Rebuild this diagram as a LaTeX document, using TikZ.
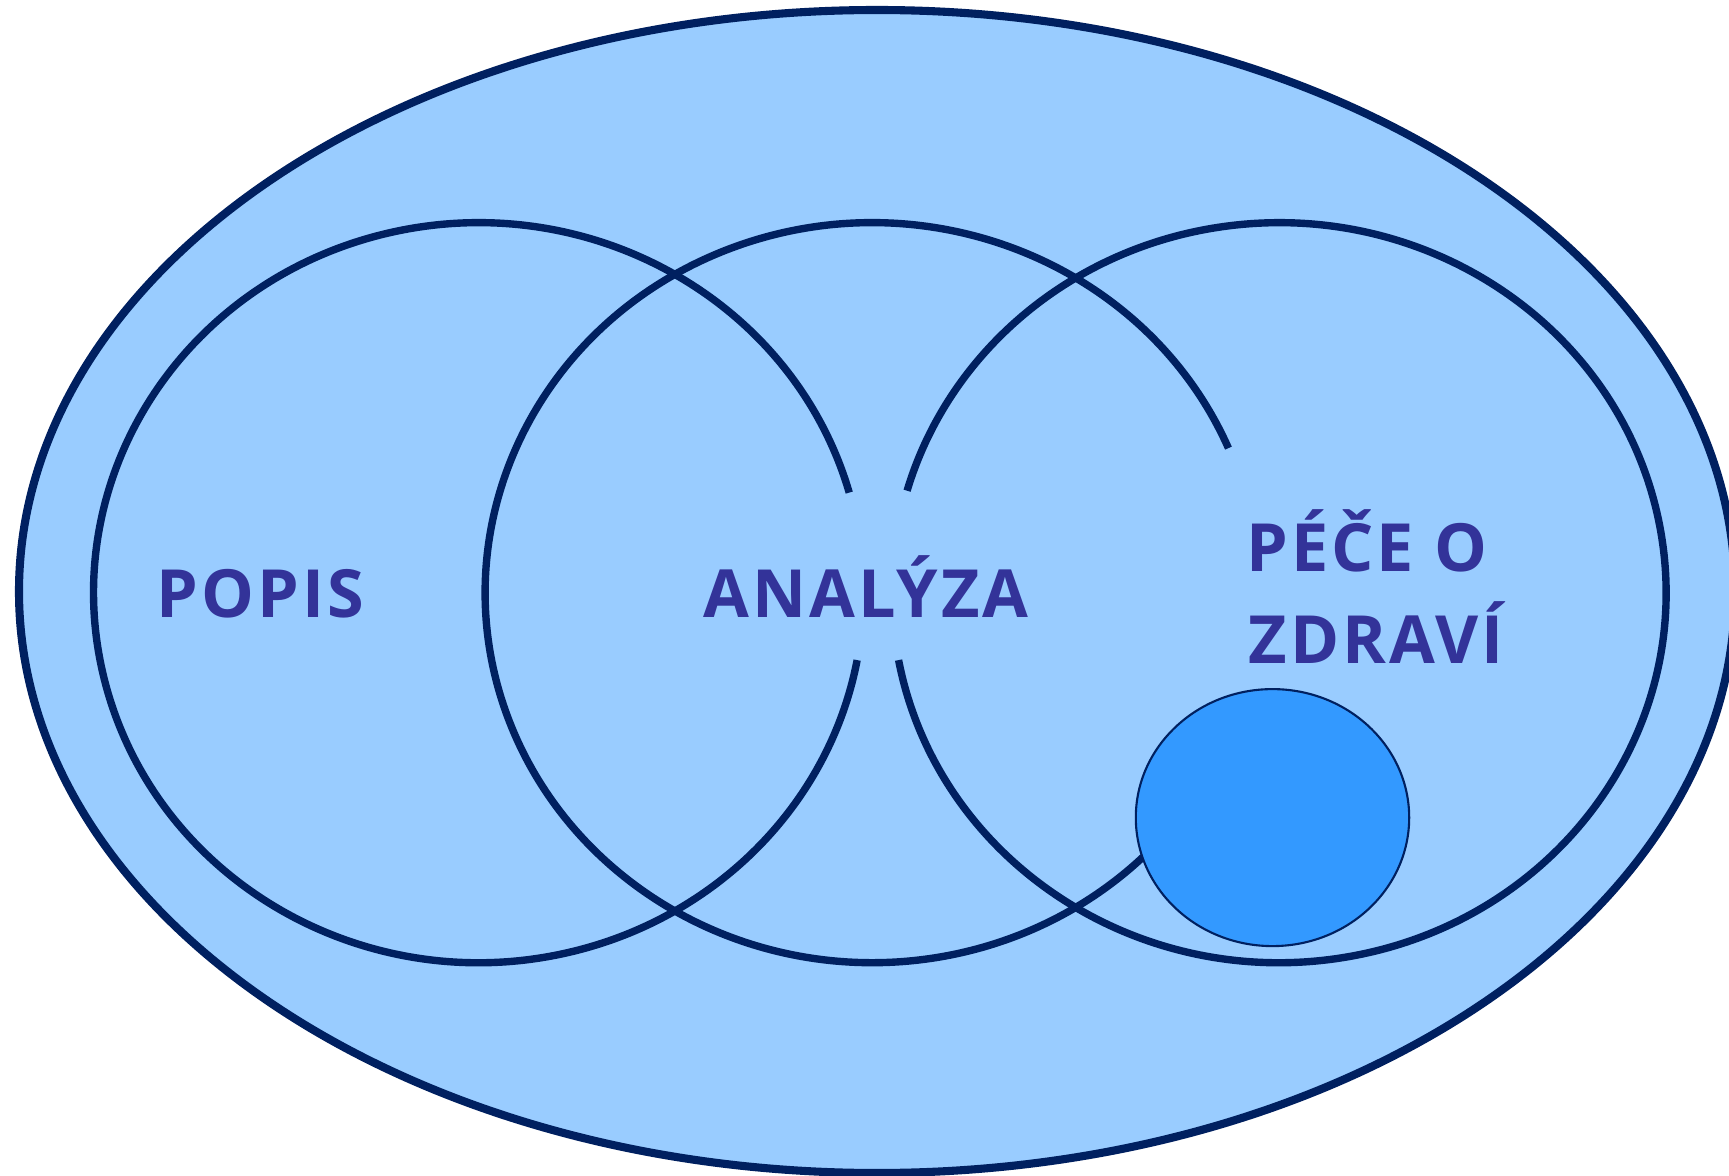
\documentclass[tikz,border=0pt]{standalone}
\usepackage{fontspec}
\setmainfont{Open Sans}
\newfontfamily\labfont{Open Sans Bold}[LetterSpace=4.5]
\definecolor{bgfill}{HTML}{99CCFF}
\definecolor{navy}{HTML}{002060}
\definecolor{txt}{HTML}{333399}
\definecolor{ballfill}{HTML}{3399FF}
\tikzset{
  ring/.style={draw=navy, line width=2.1pt},
  outerring/.style={draw=navy, fill=bgfill, line width=2.3pt},
  ball/.style={draw=navy, fill=ballfill, line width=0.6pt},
  lab/.style={text=txt, font=\fontsize{18.9}{23}\labfont, inner sep=0pt, anchor=base west}
}
\begin{document}
\begin{tikzpicture}[x=0.01cm,y=-0.01cm]
\useasboundingbox (0,0) rectangle (1729,1176);
% outer ellipse
\path[outerring] (877,591.5) ellipse [x radius=858, y radius=581.5];
\coordinate (cL) at (478.6,592.7);
\coordinate (cM) at (872.2,592.7);
\coordinate (cR) at (1279.1,592.7);
% left circle (gap on its right side)
\draw[ring] (cL) ++(-15.7:385 and 370) arc [start angle=-15.7, end angle=-349.5, x radius=385, y radius=370];
% middle circle (gap on its right side)
\draw[ring] (cM) ++(-23:387 and 370) arc [start angle=-23, end angle=-315, x radius=387, y radius=370];
% right circle (gap on its left side)
\draw[ring] (cR) ++(-190.5:387 and 370) arc [start angle=-190.5, end angle=-524, x radius=387, y radius=370];
% small ball
\path[ball] (1272.5,817.6) ellipse [x radius=136.7, y radius=128.5];
% labels
\node[lab] (popis) at (156,617.5) {POPIS};
\node[lab] (analyza) at (703,617.5) {ANALÝZA};
\node[lab] (pece) at (1246,572) {PÉČE O};
\node[lab] (zdravi) at (1248,663) {ZDRAVÍ};
\end{tikzpicture}
\end{document}
